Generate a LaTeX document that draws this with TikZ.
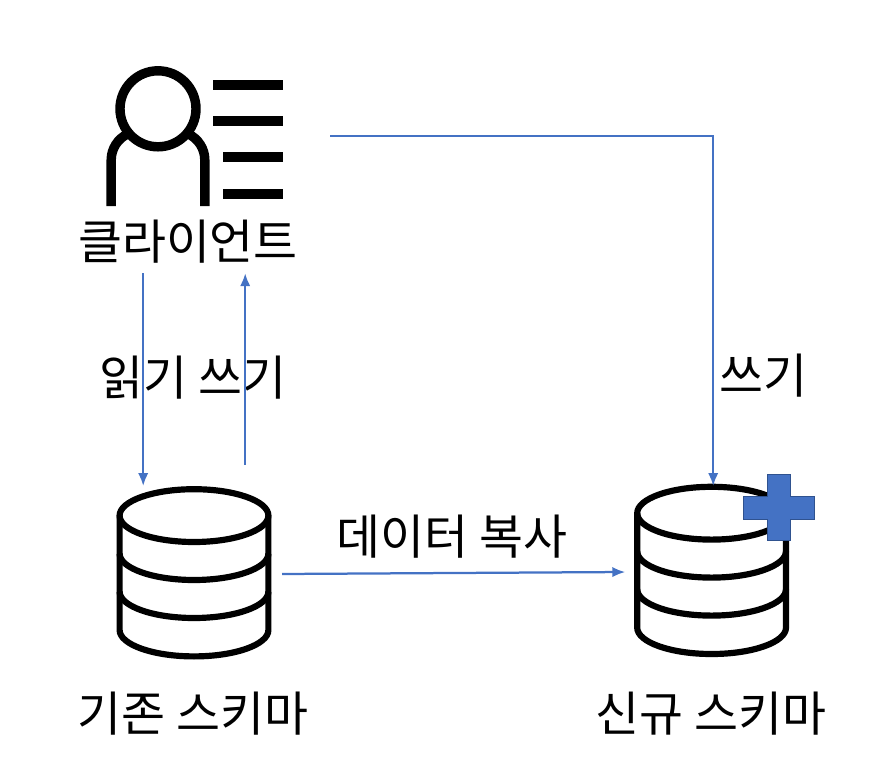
\documentclass[tikz,border=0pt]{standalone}
\usepackage{fontspec}
\setmainfont{Noto Sans CJK KR}
\usetikzlibrary{positioning}
\usetikzlibrary{arrows.meta}
\definecolor{flowblue}{HTML}{4472C4}
\definecolor{plusedge}{HTML}{2F528F}
\tikzset {
  % text labels
  label/.style = {font=\fontsize{34}{38}\selectfont, text=black, inner sep=0pt},
  % blue connectors
  flow/.style = {-{Latex[length=9.2pt, width=7.4pt]}, flowblue, line width=1.6pt},
  % icon strokes
  iconline/.style = {black, line width=6.7pt},
  bar/.style = {black, line width=7.1pt},
  dbline/.style = {black, line width=4.4pt},
  % database icon
  dbicon/.pic = {
    \draw[dbline] (0, 0) ellipse (1.86 and 0.66);
    \draw[dbline] (-1.86, 0) -- (-1.86, -2.86) arc (180:360:1.86 and 0.66) -- (1.86, 0);
    \draw[dbline] (-1.86, -0.95) arc (180:360:1.86 and 0.66);
    \draw[dbline] (-1.86, -1.9) arc (180:360:1.86 and 0.66);
  },
}
\begin{document}
\begin{tikzpicture}
      \useasboundingbox (0, 0) rectangle (22.375, -19.2);

      % client icon
      \draw[iconline] (3.95, -2.72) circle (0.95);
      \draw[iconline] (2.78, -5.15) -- (2.78, -4.0) arc (180:115:0.72);
      \draw[iconline] (5.12, -5.15) -- (5.12, -4.0) arc (0:65:0.72);
      \draw[bar] (5.33, -2.12) -- (7.08, -2.12);
      \draw[bar] (5.33, -3.02) -- (7.08, -3.02);
      \draw[bar] (5.58, -3.92) -- (7.08, -3.92);
      \draw[bar] (5.58, -4.85) -- (7.08, -4.85);

      % databases
      \pic at (4.85, -12.89) {dbicon};
      \pic at (17.79, -12.83) {dbicon};
      \draw[fill=flowblue, draw=plusedge, line width=0.7pt]
        (19.18, -11.85) -- (19.75, -11.85) -- (19.75, -12.4) -- (20.35, -12.4)
        -- (20.35, -12.98) -- (19.75, -12.98) -- (19.75, -13.52) -- (19.18, -13.52)
        -- (19.18, -12.98) -- (18.58, -12.98) -- (18.58, -12.4) -- (19.18, -12.4) -- cycle;

      % labels
      \node[label] (client) at (4.7, -6.05) {클라이언트};
      \node[label] (readwrite) at (4.83, -9.45) {읽기 쓰기};
      \node[label] (write) at (19.08, -9.38) {쓰기};
      \node[label] (copy) at (11.3, -13.42) {데이터 복사};
      \node[label] (oldschema) at (4.83, -17.85) {기존 스키마};
      \node[label] (newschema) at (17.78, -17.85) {신규 스키마};

      % connector ends
      \coordinate (readstart) at (3.58, -6.83);
      \coordinate (readend) at (3.58, -12.15);
      \coordinate (writestart) at (6.13, -11.62);
      \coordinate (writeend) at (6.13, -6.83);
      \coordinate (newstart) at (8.25, -3.4);
      \coordinate (newend) at (17.83, -12.15);
      \coordinate (copystart) at (7.05, -14.35);
      \coordinate (copyend) at (15.63, -14.3);

      \draw[flow] (readstart) -- (readend);
      \draw[flow] (writestart) -- (writeend);
      \draw[flow] (newstart) -| (newend);
      \draw[flow] (copystart) -- (copyend);
\end{tikzpicture}
\end{document}
